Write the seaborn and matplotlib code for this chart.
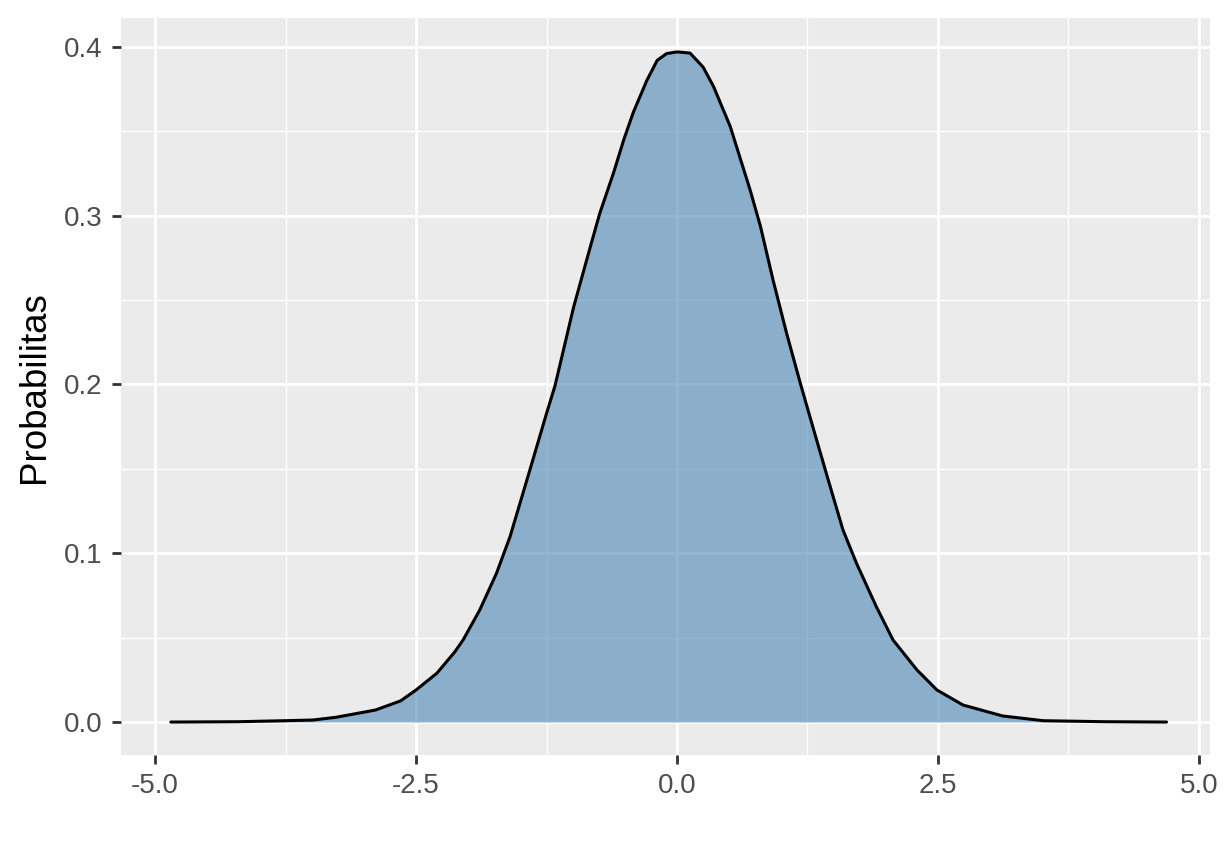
import numpy as np
import pandas as pd
import seaborn as sns
import matplotlib.pyplot as plt
from matplotlib.ticker import MultipleLocator

# density curve
x_vals = [-4.85, -4.2, -3.76, -3.49, -3.27, -2.89, -2.65, -2.50, -2.30, -2.13,
          -2.05, -1.89, -1.73, -1.60, -1.41, -1.25, -1.17, -0.99, -0.83, -0.74,
          -0.61, -0.51, -0.42, -0.29, -0.19, -0.10, 0.0, 0.125, 0.25, 0.35,
          0.51, 0.70, 0.80, 0.92, 1.05, 1.18, 1.31, 1.43, 1.59, 1.72,
          1.91, 2.07, 2.30, 2.49, 2.74, 3.12, 3.51, 4.1, 4.69]
dens_vals = [0.0, 0.0002, 0.0008, 0.0012, 0.0028, 0.0071, 0.0125, 0.019, 0.029, 0.0415,
             0.0486, 0.0664, 0.0881, 0.1098, 0.1493, 0.1829, 0.199, 0.246, 0.2817, 0.3014,
             0.325, 0.345, 0.361, 0.380, 0.392, 0.396, 0.397, 0.3963, 0.388, 0.3765,
             0.3528, 0.3153, 0.2935, 0.2619, 0.2303, 0.201, 0.173, 0.1474, 0.1138, 0.094,
             0.0683, 0.0486, 0.0308, 0.019, 0.0101, 0.0036, 0.0008, 0.0002, 0.0]
x_ticks = [-5.0, -2.5, 0.0, 2.5, 5.0]
y_ticks = [0.0, 0.1, 0.2, 0.3, 0.4]
y_label = "Probabilitas"

df = pd.DataFrame({"x": x_vals, "density": dens_vals})

sns.set_theme(style="darkgrid", rc={
    "axes.facecolor": "#EBEBEB",
    "grid.color": "white",
    "axes.edgecolor": "#EBEBEB",
})
plt.rcParams["font.family"] = ["Liberation Sans", "DejaVu Sans"]

fig, ax = plt.subplots(figsize=(12.32, 8.64), dpi=100)
fig.subplots_adjust(left=0.098, right=0.982, top=0.979, bottom=0.126)

ax.fill_between(df["x"], df["density"], 0, color="steelblue", alpha=0.58,
                linewidth=0, zorder=2)
sns.lineplot(data=df, x="x", y="density", color="black", linewidth=2.2,
             ax=ax, zorder=3)

ax.set_xlim(-5.33, 5.105)
ax.set_ylim(-0.0196, 0.417)
ax.set_xticks(x_ticks)
ax.set_xticklabels([f"{t:.1f}" for t in x_ticks])
ax.set_yticks(y_ticks)
ax.set_yticklabels([f"{t:.1f}" for t in y_ticks])
ax.xaxis.set_minor_locator(MultipleLocator(1.25))
ax.yaxis.set_minor_locator(MultipleLocator(0.05))
ax.grid(which="major", color="white", linewidth=2.0)
ax.grid(which="minor", color="white", linewidth=1.0)
ax.set_axisbelow(True)
ax.tick_params(axis="both", which="major", length=6.5, width=2, color="#333333",
               labelsize=20, labelcolor="#4D4D4D", bottom=True, left=True, pad=6.5)
ax.tick_params(axis="both", which="minor", length=0)

ax.set_xlabel("")
ax.set_ylabel(y_label, fontsize=26.5, color="black", labelpad=9)
for s in ax.spines.values():
    s.set_visible(False)

plt.savefig("out.png", dpi=100)
